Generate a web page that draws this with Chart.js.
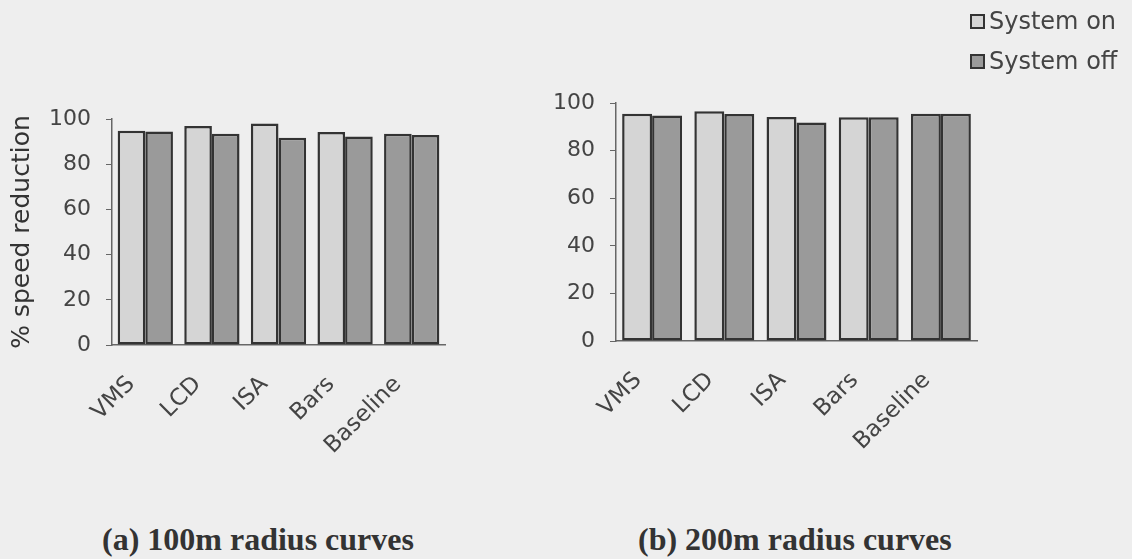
<!DOCTYPE html>
<html>
<head>
<meta charset="utf-8">
<script src="https://cdn.jsdelivr.net/npm/chart.js@4/dist/chart.umd.min.js"></script>
<style>
  body { margin: 0; background: #eeeeee; width: 1132px; height: 559px; overflow: hidden; position: relative; font-family: "DejaVu Sans", sans-serif; }
  .box { position: absolute; }
  .legend { position: absolute; left: 970px; top: 7px; color: #444; font-size: 24px; line-height: 28px; }
  .legend div { height: 40px; display: flex; align-items: flex-start; white-space: nowrap; }
  .legend span.sw { display: inline-block; width: 11px; height: 11px; border: 2px solid #333; margin: 7px 4px 0 0; flex: none; }
  .cap { position: absolute; top: 523px; line-height: 32px; font-family: "Liberation Serif", "Times New Roman", serif; font-weight: bold; font-size: 32px; color: #333; white-space: nowrap; }
</style>
</head>
<body>
<div class="box" style="left:0;top:0;width:470px;height:470px;"><canvas id="chartA"></canvas></div>
<div class="box" style="left:500px;top:0;width:632px;height:470px;"><canvas id="chartB"></canvas></div>
<div class="legend">
  <div><span class="sw" style="background:#d5d5d5"></span>System on</div>
  <div><span class="sw" style="background:#9a9a9a"></span>System off</div>
</div>
<div class="cap" style="left:102px;">(a) 100m radius curves</div>
<div class="cap" style="left:638px;">(b) 200m radius curves</div>
<script>
const categories = ['VMS', 'LCD', 'ISA', 'Bars', 'Baseline'];
const onA = [94.8, 96.9, 98.0, 94.2, 93.5];
const offA = [94.5, 93.5, 91.7, 92.3, 92.9];
const onB = [95.5, 96.5, 94.1, 94.0, 95.5];
const offB = [94.7, 95.4, 91.8, 94.0, 95.5];
const yTicks = [0, 20, 40, 60, 80, 100];

const light = '#d5d5d5';
const dark = '#9a9a9a';
const edge = '#333333';
// the Baseline "on" bar is drawn in the dark shade in the original
const onColors = categories.map(c => c === 'Baseline' ? dark : light);

function makeChart(id, onData, offData, layout, showTitle) {
    const ctx = document.getElementById(id).getContext('2d');
    return new Chart(ctx, {
        type: 'bar',
        data: {
            labels: categories,
            datasets: [{
                label: 'System on',
                data: onData,
                backgroundColor: onColors,
                borderColor: edge,
                borderWidth: 2.5,
                borderSkipped: false
            }, {
                label: 'System off',
                data: offData,
                backgroundColor: dark,
                borderColor: edge,
                borderWidth: 2.5,
                borderSkipped: false
            }]
        },
        options: {
            responsive: true,
            maintainAspectRatio: false,
            animation: false,
            categoryPercentage: 0.83,
            barPercentage: 1.0,
            layout: { padding: layout.padding },
            plugins: {
                legend: { display: false },
                tooltip: { enabled: false }
            },
            scales: {
                x: {
                    grid: { display: false },
                    border: { color: '#666', width: 1.5 },
                    ticks: {
                        color: '#444',
                        font: { family: 'DejaVu Sans', size: 23 },
                        minRotation: 45,
                        maxRotation: 45,
                        padding: 18,
                        labelOffset: -14
                    },
                    afterFit: s => { s.height = layout.xHeight; }
                },
                y: {
                    min: 0,
                    max: 100,
                    afterBuildTicks: s => { s.ticks = yTicks.map(v => ({ value: v })); },
                    grid: { drawOnChartArea: false, drawTicks: true, tickLength: 6, color: '#666' },
                    border: { color: '#666', width: 1.5 },
                    ticks: {
                        color: '#444',
                        font: { family: 'DejaVu Sans', size: 22 },
                        padding: 15
                    },
                    title: {
                        display: showTitle,
                        text: '% speed reduction',
                        color: '#333',
                        font: { family: 'DejaVu Sans', size: 25 },
                        padding: { top: 7, bottom: 0 }
                    },
                    afterFit: s => { s.width = layout.yWidth; }
                }
            }
        }
    });
}

makeChart('chartA', onA, offA, { padding: { top: 119, right: 25, left: 0, bottom: 0 }, xHeight: 125, yWidth: 112 }, true);
makeChart('chartB', onB, offB, { padding: { top: 103, right: 155, left: 0, bottom: 0 }, xHeight: 129, yWidth: 116 }, false);
</script>
</body>
</html>
